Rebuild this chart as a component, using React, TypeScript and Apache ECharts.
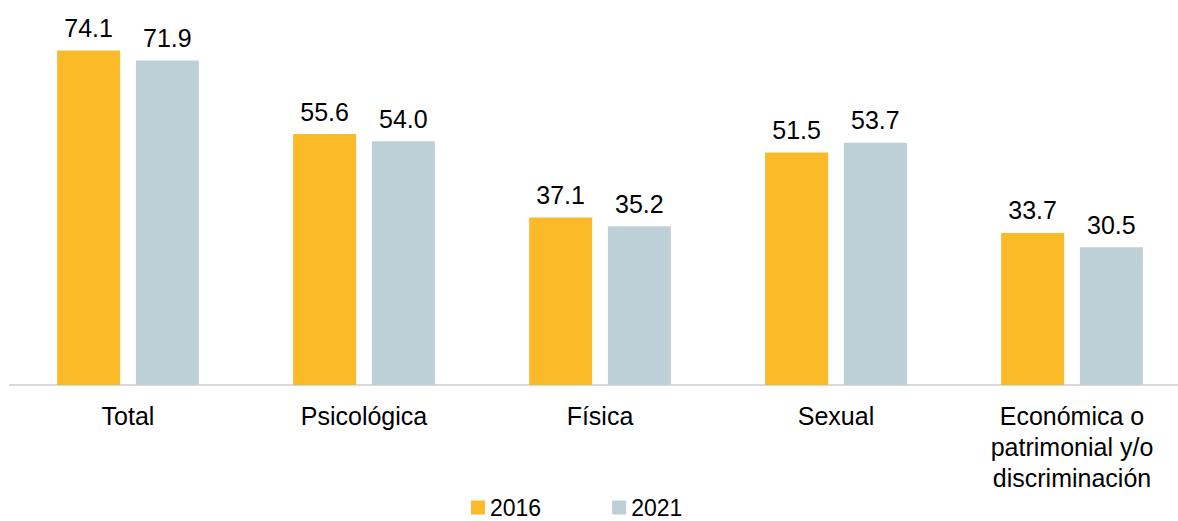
import React, { useEffect, useRef } from "react";
import * as echarts from "echarts";

const categories = ["Total", "Psicológica", "Física", "Sexual", "Económica o\npatrimonial y/o\ndiscriminación"];
const values2016 = [74.1, 55.6, 37.1, 51.5, 33.7];
const values2021 = [71.9, 54.0, 35.2, 53.7, 30.5];
const seriesNames = ["2016", "2021"];

const FONT = "'Liberation Sans', Arial, sans-serif";

export default function App() {
  const ref = useRef<HTMLDivElement>(null);
  useEffect(() => {
    if (!ref.current) return;
    const chart = echarts.init(ref.current, null, { renderer: "svg" });
    const label = {
      show: true,
      position: "top",
      distance: 10,
      fontSize: 25,
      color: "#000",
      fontFamily: FONT,
      formatter: (p: any) => Number(p.value).toFixed(1),
    };
    chart.setOption({
      animation: false,
      textStyle: { fontFamily: FONT },
      legend: {
        left: 471,
        top: 496,
        padding: 0,
        itemWidth: 14,
        itemHeight: 14,
        itemGap: 71,
        icon: "rect",
        textStyle: { fontSize: 23, color: "#000", fontFamily: FONT },
        data: seriesNames,
      },
      grid: { left: 10, top: 24, width: 1180, height: 361, containLabel: false },
      xAxis: {
        type: "category",
        data: categories,
        axisLine: { lineStyle: { color: "#D9D9D9", width: 2 } },
        axisTick: { show: false },
        axisLabel: {
          fontSize: 25,
          color: "#000",
          fontFamily: FONT,
          margin: 15,
          lineHeight: 31,
          interval: 0,
        },
      },
      yAxis: {
        type: "value",
        min: 0,
        max: 80,
        show: false,
        splitLine: { show: false },
      },
      series: [
        {
          name: seriesNames[0],
          type: "bar",
          data: values2016,
          barWidth: 63,
          barGap: "25%",
          itemStyle: { color: "#FBBA28" },
          label,
        },
        {
          name: seriesNames[1],
          type: "bar",
          data: values2021,
          barWidth: 63,
          itemStyle: { color: "#BDD0D7" },
          label,
        },
      ],
    });
    return () => chart.dispose();
  }, []);
  return (
    <div style={{ position: "fixed", left: 0, top: 0, width: 1178, height: 521, overflow: "hidden", background: "#fff" }}>
      <div ref={ref} style={{ width: 1210, height: 521 }} />
    </div>
  );
}
